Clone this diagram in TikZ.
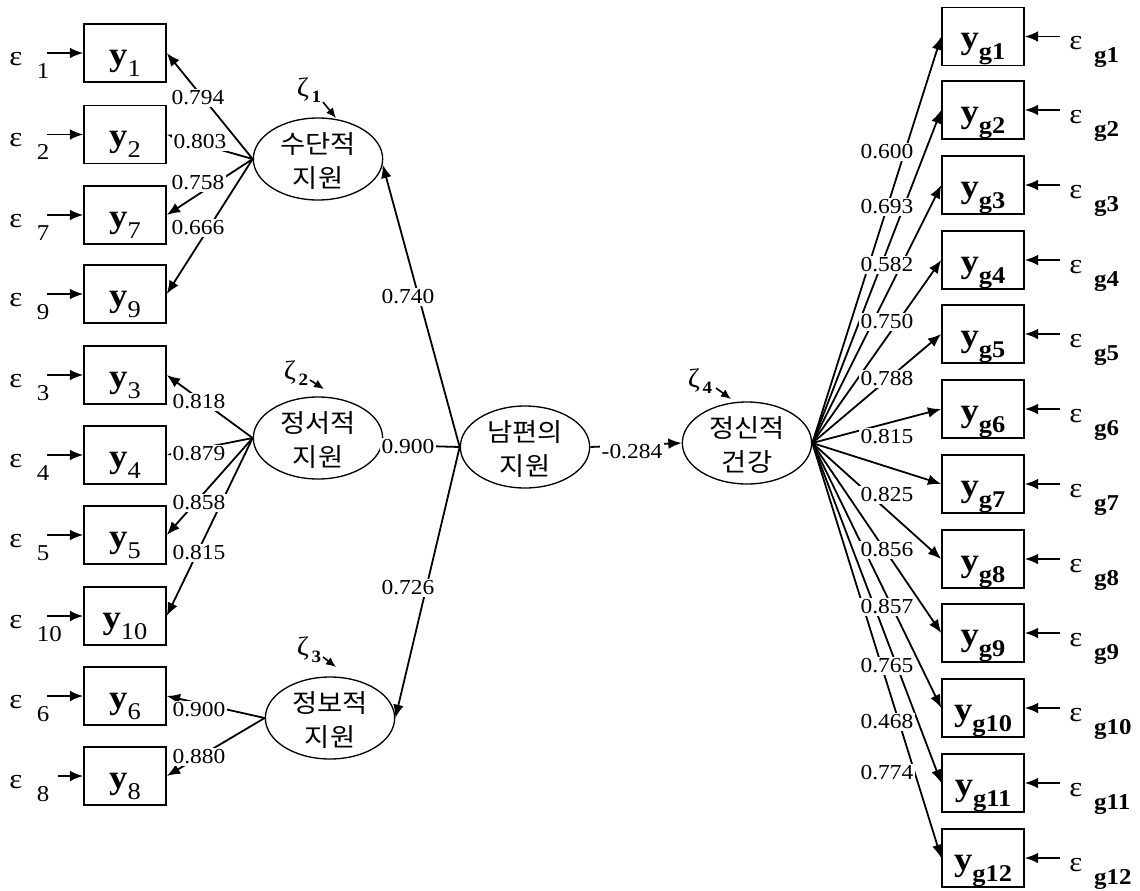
\documentclass[tikz,border=0pt]{standalone}
\usepackage{fontspec}
\setmainfont{Liberation Serif}[FakeStretch=1.1]
\newfontfamily\kor{Noto Sans CJK KR}[FakeStretch=1.08]
\usetikzlibrary{arrows.meta,shapes.geometric}
\newcommand{\ysub}[1]{\textbf{y}\raisebox{-8.5pt}{\fontsize{18}{18}\selectfont #1}}
\newcommand{\ygsub}[1]{\textbf{y}\raisebox{-8.5pt}{\fontsize{18}{18}\selectfont\bfseries g#1}}
\newcommand{\epsl}[1]{{\fontsize{21}{21}\selectfont ε}\hspace{11pt}\raisebox{-10pt}{#1}}
\newcommand{\epsr}[1]{{\fontsize{21}{21}\selectfont ε}\hspace{9pt}\raisebox{-9.75pt}{\bfseries g#1}}
\newcommand{\zet}[1]{ζ\hspace{2pt}\raisebox{-5pt}{\fontsize{13}{13}\selectfont\bfseries #1}}
\tikzset{
  obs/.style={draw, line width=1.1pt, minimum width=61.5pt, minimum height=43.5pt, inner sep=0pt, text height=20pt, text depth=2pt, font=\fontsize{25}{25}\selectfont},
  lat/.style={draw, ellipse, line width=1pt, minimum width=97pt, minimum height=61.5pt, inner sep=0pt},
  kortxt/.style={align=center, font=\kor\fontsize{19}{26}\selectfont, inner sep=0pt},
  coef/.style={fill=white, inner sep=1.5pt, font=\fontsize{16}{16}\selectfont},
  epsnode/.style={anchor=base west, inner sep=0pt, font=\fontsize{17}{17}\selectfont},
  zeta/.style={inner sep=0pt, font=\fontsize{20}{20}\selectfont},
  arr/.style={-{Latex[length=10pt,width=8pt]}, line width=1.35pt},
}
\begin{document}
\begin{tikzpicture}[x=0.75pt,y=-0.75pt]
\useasboundingbox (0,0) rectangle (1140,890);
% latent variables
\node[lat] (e1) at (318,159) {};
\node[lat] (e2) at (318,438) {};
\node[lat] (e3) at (330,718) {};
\node[lat] (s) at (525,447) {};
\node[lat] (h) at (747,443) {};
\node[kortxt] (t1) at (318,161) {수단적\\지원};
\node[kortxt] (t2) at (318,440) {정서적\\지원};
\node[kortxt] (t3) at (330,720) {정보적\\지원};
\node[kortxt] (ts) at (525,449) {남편의\\지원};
\node[kortxt] (th) at (747,445) {정신적\\건강};
% left observed variables
\foreach \k/\yc in {1/53,2/134.5,7/215,9/294,3/375,4/455,5/535,10/616,6/696,8/776}{
  \node[obs] (y\k) at (125,\yc) {\ysub{\k}};
  \node[epsnode] (ep\k) at (9,\yc+12) {\epsl{\k}};
}
\foreach \k/\yc in {1/53,2/134.5,7/215,9/294,3/375,4/455,5/535,10/616,6/696}{
  \coordinate (ea\k) at (47,\yc);
  \draw[arr] (ea\k) -- (y\k.west);
}
\coordinate (ea8) at (58,776);
\draw[arr] (ea8) -- (y8.west);
% right observed variables
\foreach \k/\yc in {1/36.5,2/110,3/185,4/260,5/334,6/409,7/484,8/559,9/633,10/708,11/783,12/858}{
  \node[obs] (yg\k) at (983,\yc) {\ygsub{\k}};
  \node[epsnode] (eg\k) at (1069,\yc+13) {\epsr{\k}};
  \coordinate (ega\k) at (1060,\yc);
  \draw[arr] (ega\k) -- (yg\k.east);
  \draw[arr] (h.east) -- (yg\k.west);
}
% left loadings
\foreach \k in {1,2,7,9}{ \draw[arr] (e1.west) -- (y\k.east); }
\foreach \k in {3,4,5,10}{ \draw[arr] (e2.west) -- (y\k.east); }
\foreach \k in {6,8}{ \draw[arr] (e3.west) -- (y\k.east); }
% structural paths
\draw[arr] (s.west) -- (e1.-5);
\draw[arr] (s.west) -- (e2.-6);
\draw[arr] (s.west) -- (e3.east);
\draw[arr] (s.east) -- (h.west);
% disturbances
\node[zeta] (z1) at (309,90) {\zet{1}};
\node[zeta] (z2) at (296,373) {\zet{2}};
\node[zeta] (z3) at (309,650) {\zet{3}};
\node[zeta] (z4) at (700,381) {\zet{4}};
\coordinate (zs1) at (323,102); \coordinate (ze1) at (336,118);
\coordinate (zs2) at (310,380); \coordinate (ze2) at (324,389);
\coordinate (zs3) at (323,657); \coordinate (ze3) at (336,667);
\coordinate (zs4) at (716,388); \coordinate (ze4) at (731,399);
\foreach \k in {1,2,3,4}{ \draw[-{Latex[length=7.5pt,width=6.5pt]}, line width=1.2pt] (zs\k) -- (ze\k); }
% coefficients
\node[coef] (c1) at (198,98) {0.794};
\node[coef] (c2) at (200,142) {0.803};
\node[coef] (c7) at (198,183) {0.758};
\node[coef] (c9) at (198,228) {0.666};
\node[coef] (c3) at (199,402) {0.818};
\node[coef] (c4) at (199,454) {0.879};
\node[coef] (c5) at (199,503) {0.858};
\node[coef] (c10) at (199,553) {0.815};
\node[coef] (c6) at (199,710) {0.900};
\node[coef] (c8) at (199,757) {0.880};
\node[coef] (cs1) at (408,297) {0.740};
\node[coef] (cs2) at (408,447) {0.900};
\node[coef] (cs3) at (408,588) {0.726};
\node[coef] (csh) at (632,452) {-0.284};
\foreach \k/\v/\ly in {1/0.600/152,2/0.693/207,3/0.582/265,4/0.750/322,5/0.788/379,6/0.815/437,7/0.825/495,8/0.856/550,9/0.857/607,10/0.765/666,11/0.468/722,12/0.774/773}{
  \node[coef] (cg\k) at (887,\ly) {\v};
}
\end{tikzpicture}
\end{document}
